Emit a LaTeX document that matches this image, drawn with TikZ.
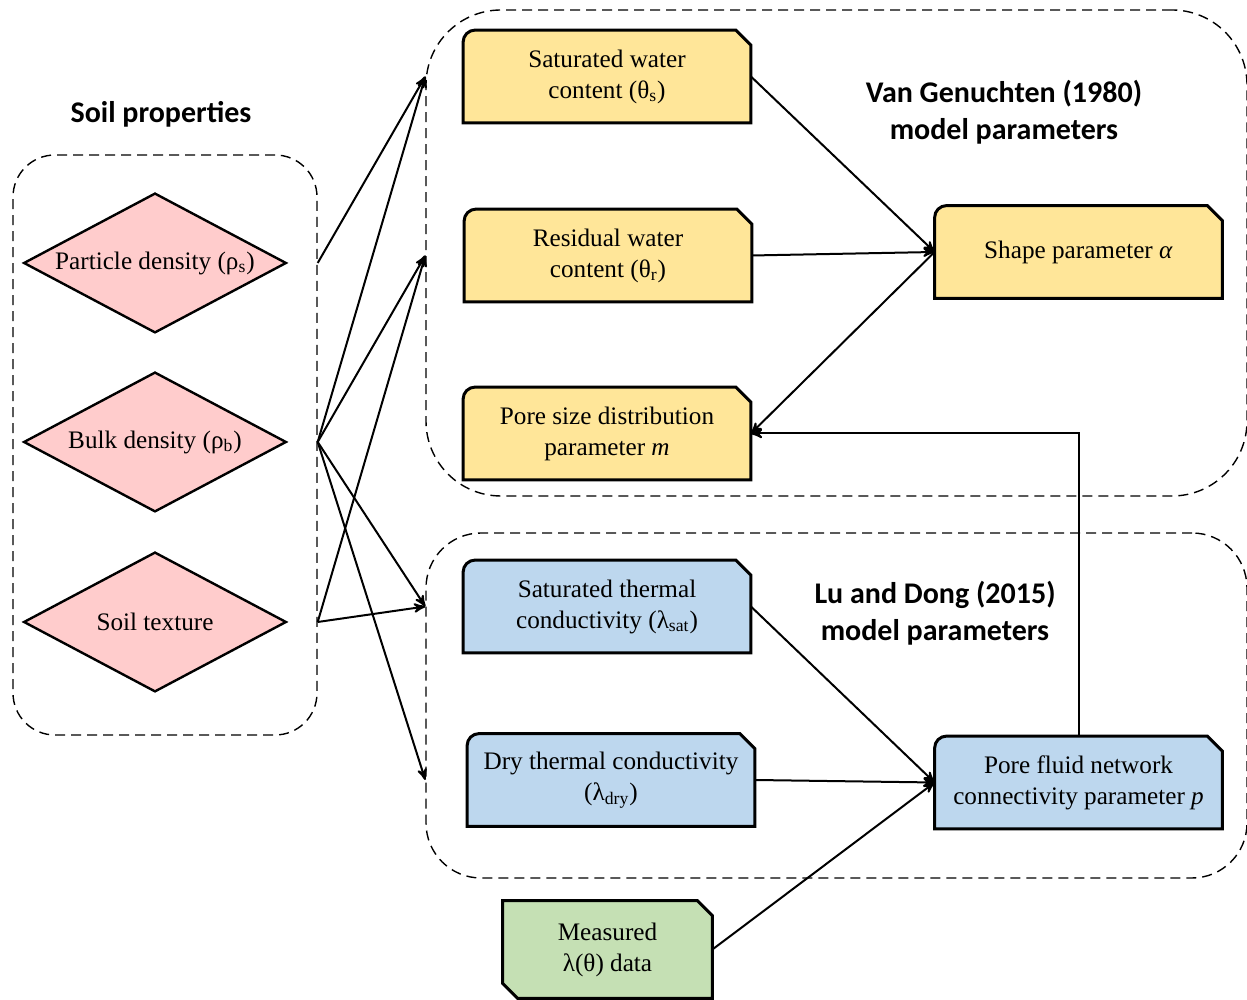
\documentclass[tikz,border=0pt]{standalone}
\usepackage{fontspec}
\setmainfont{Liberation Serif}
\newfontfamily\headfont{Carlito}
\usepackage{tikz}
\usetikzlibrary{arrows}
\usetikzlibrary{calc,backgrounds}
\definecolor{vgyellow}{HTML}{FFE699}
\definecolor{ldblue}{HTML}{BDD7EE}
\definecolor{measgreen}{HTML}{C5E0B4}
\definecolor{soilpink}{HTML}{FFCCCC}
\tikzset{
  grp/.style={draw, dash pattern=on 5pt off 3pt, line width=.7pt, inner sep=0},
  pbox/.style={minimum width=143.5pt, minimum height=46pt, align=center, inner sep=0},
  soilbox/.style={minimum width=130.5pt, minimum height=69pt, align=center, inner sep=0},
  head/.style={font=\headfont\bfseries\fontsize{15}{18.5}\selectfont, align=center},
  link/.style={line width=1pt, ->, >=stealth'},
}

\begin{document}
\begin{tikzpicture}[x=0.5pt, y=0.5pt, font=\fontsize{12.6}{15.5}\selectfont]
\useasboundingbox (0,0) rectangle (1247,1000);
% groups
\node[grp, rounded corners=21pt, minimum width=152pt, minimum height=290pt] (soil) at (165,555) {};
\node[grp, rounded corners=37.5pt, minimum width=410.5pt, minimum height=243pt] (vg) at (836.5,747) {};
\node[grp, rounded corners=27.5pt, minimum width=410.5pt, minimum height=172.5pt] (ld) at (836.5,294.5) {};
\node[head] (soilt) at (161,886) {Soil proper\kern0pt ties};
\node[head] (vgt) at (1004,888) {Van Genuchten (1980)\\model parameters};
\node[head] (ldt) at (935,387) {Lu and Dong (2015)\\model parameters};
% soil properties
\node[soilbox] (pd) at (155,737) {Particle density (ρ\textsubscript{s})};
\node[soilbox] (bd) at (155,558) {Bulk density (ρ\textsubscript{b})};
\node[soilbox] (st) at (155,378) {Soil texture};
% parameters
\node[pbox] (ws) at (607,923.5) {Saturated water\\content (θ\textsubscript{s})};
\node[pbox] (wr) at (608,744.5) {Residual water\\content (θ\textsubscript{r})};
\node[pbox] (wm) at (607,566.5) {Pore size distribution\\parameter \textit{m}};
\node[pbox] (wa) at (1078.5,748) {Shape parameter \textit{α}};
\node[pbox] (ks) at (607,393.5) {Saturated thermal\\conductivity (λ\textsubscript{sat})};
\node[pbox] (kd) at (611,220) {Dry thermal conductivity\\(λ\textsubscript{dry})};
\node[pbox] (kp) at (1078.5,217.5) {Pore fluid network\\connectivity parameter \textit{p}};
\node[pbox, minimum width=104.5pt, minimum height=48.5pt] (km) at (607.5,50.5) {Measured\\λ(θ) data};
% outlines
\begin{scope}[on background layer]
\foreach \n/\c in {ws/vgyellow, wr/vgyellow, wm/vgyellow, wa/vgyellow, ks/ldblue, kd/ldblue, kp/ldblue} {
 \draw[line width=1.5pt, fill=\c] (\n.south west) -- (\n.south east) -- ([yshift=-7.5pt]\n.north east)
   -- ([xshift=-7.5pt]\n.north east) -- ([xshift=6pt]\n.north west)
   arc[start angle=90, end angle=180, radius=6pt] -- cycle;
}
\draw[line width=1.5pt, fill=measgreen] (km.north west) -- ([xshift=-7.5pt]km.north east)
   -- ([yshift=-7.5pt]km.north east) -- (km.south east) -- ([xshift=7.5pt]km.south west)
   -- ([yshift=7.5pt]km.south west) -- cycle;
\foreach \n in {pd, bd, st}
 \draw[line width=1.2pt, fill=soilpink] (\n.north) -- (\n.east) -- (\n.south) -- (\n.west) -- cycle;
\end{scope}
% connectors
\draw[link] (soil.east |- pd) -- (vg.west |- ws);
\foreach \t in {ws, wr} \draw[link] (soil.east |- bd) -- (vg.west |- \t);
\foreach \t in {ks, kd} \draw[link] (soil.east |- bd) -- (ld.west |- \t);
\draw[link] (soil.east |- st) -- (vg.west |- wr);
\draw[link] (soil.east |- st) -- (ld.west |- ks);
\foreach \s in {ws, wr} \draw[link] (\s.east) -- (wa.west);
\draw[link] (wa.west) -- (wm.east);
\draw[link] (kp.north) |- (wm.east);
\foreach \s in {ks, kd, km} \draw[link] (\s.east) -- (kp.west);
\end{tikzpicture}
\end{document}
